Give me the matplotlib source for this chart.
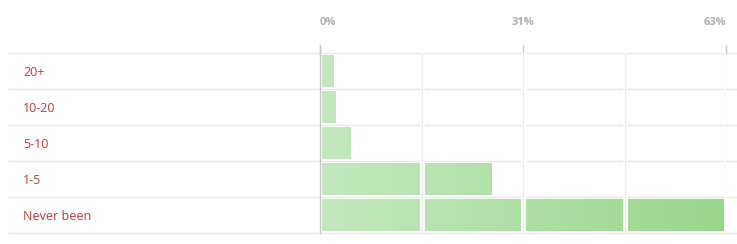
import matplotlib.pyplot as plt
import numpy as np
from matplotlib.colors import LinearSegmentedColormap
from matplotlib.patches import Rectangle

# ---------------------------------------------------
# Data
# ---------------------------------------------------
categories = ["20+", "10-20", "5-10", "1-5", "Never been"]
values = [2.2, 2.5, 4.8, 26.6, 63.0]
x_max = 63.0
tick_values = [0, 31.5, 63]
tick_labels = ["0%", "31%", "63%"]
grid_values = [15.75, 31.5, 47.25, 63]

plt.rcParams['font.family'] = ['Open Sans', 'DejaVu Sans']

W, H = 737, 244
fig = plt.figure(figsize=(W / 100, H / 100), dpi=100)
ax_left, ax_right = 320, 726
ax_top, ax_bottom = 53, 233
ax = fig.add_axes([ax_left / W, 1 - ax_bottom / H,
                   (ax_right - ax_left) / W, (ax_bottom - ax_top) / H])

ax.set_xlim(0, x_max)
ax.set_ylim(len(categories) - 0.5, -0.5)

# gradient across the whole x range
cmap = LinearSegmentedColormap.from_list("g", ["#c4e8bf", "#98d68a"])
grad = np.linspace(0, 1, 256).reshape(1, -1)
bar_h = 0.88
for i, v in enumerate(values):
    img = ax.imshow(grad, cmap=cmap, aspect='auto',
                    extent=(0, x_max, i + bar_h / 2, i - bar_h / 2), zorder=2)
    clip = Rectangle((0.35, i - bar_h / 2), v - 0.35, bar_h, transform=ax.transData)
    img.set_clip_path(clip)

# white gaps + grid lines over bars
for g in grid_values:
    ax.axvline(g, color='white', lw=3.5, zorder=3)
    ax.axvline(g, color='#ebebeb', lw=1, zorder=4)

# row separators spanning past the axes
x0 = (9 - ax_left) / (ax_right - ax_left)
x1 = (W - ax_left) / (ax_right - ax_left)
for k in range(len(categories) + 1):
    ax.plot([x0, x1], [k - 0.5, k - 0.5], color='#e8e8e8', lw=1,
            transform=ax.get_yaxis_transform(), clip_on=False, zorder=1)

# left axis line extending up to tick marks
ax.plot([0, 0], [-0.5 - 8 / 36, len(categories) - 0.5], color='#c8c8c8', lw=1,
        clip_on=False, zorder=5)

for s in ax.spines.values():
    s.set_visible(False)

ax.xaxis.tick_top()
ax.set_xticks(tick_values)
ax.set_xticklabels(tick_labels)
ax.tick_params(axis='x', length=6, width=1, color='#c8c8c8', pad=12,
               labelsize=8, labelcolor='#b0b0b0')
for t, ha in zip(ax.get_xticklabels(), ['left', 'center', 'right']):
    t.set_fontweight('bold')
    t.set_horizontalalignment(ha)

ax.set_yticks([])
for i, c in enumerate(categories):
    ax.text((23 - ax_left) / (ax_right - ax_left), i, c, color='#c9363a',
            fontsize=9, va='center_baseline', ha='left',
            transform=ax.get_yaxis_transform())

fig.savefig("out.png", dpi=100)
